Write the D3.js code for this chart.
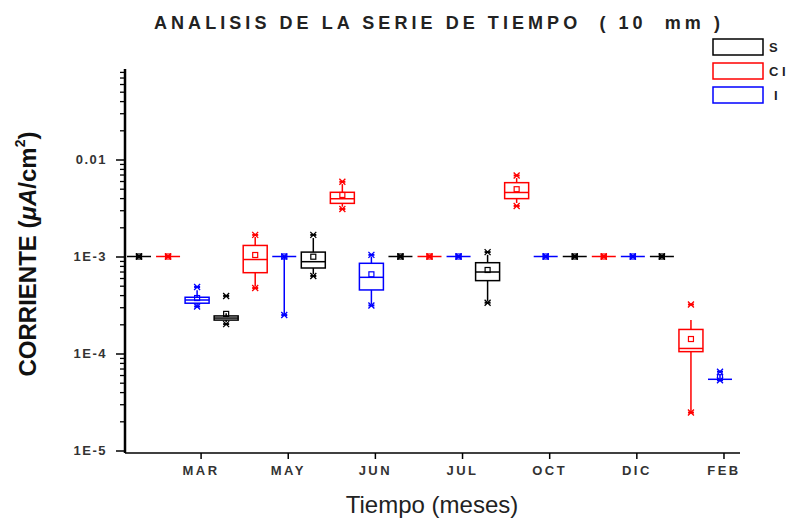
<!DOCTYPE html>
<html>
<head>
<meta charset="utf-8">
<script src="https://cdn.jsdelivr.net/npm/d3@7"></script>
<style>
body { margin: 0; background: #fff; }
text { font-family: "Liberation Sans", Arial, sans-serif; }
</style>
</head>
<body>
<svg id="chart" width="790" height="519"></svg>
<script>
// boxes per month, 3 series side by side

var months = ["MAR", "MAY", "JUN", "JUL", "OCT", "DIC", "FEB"];
var seriesNames = ["S", "C I", "I"];
var seriesColors = ["#000000", "#ff0000", "#0000ff"];

// [whisker low, q1, median, q3, whisker high]
var boxS = [
	[1e-3, 1e-3, 1e-3, 1e-3, 1e-3],
	[2.1e-4, 2.21e-4, 2.32e-4, 2.44e-4, 2.6e-4],
	[6.6e-4, 7.61e-4, 8.84e-4, 1.11e-3, 1.55e-3],
	[1e-3, 1e-3, 1e-3, 1e-3, 1e-3],
	[3.48e-4, 5.64e-4, 6.92e-4, 8.63e-4, 1.04e-3],
	[1e-3, 1e-3, 1e-3, 1e-3, 1e-3],
	[1e-3, 1e-3, 1e-3, 1e-3, 1e-3]
];
var boxCI = [
	[1e-3, 1e-3, 1e-3, 1e-3, 1e-3],
	[4.91e-4, 6.81e-4, 9.31e-4, 1.3e-3, 1.59e-3],
	[3.26e-3, 3.53e-3, 3.94e-3, 4.59e-3, 5.58e-3],
	[1e-3, 1e-3, 1e-3, 1e-3, 1e-3],
	[3.56e-3, 3.95e-3, 4.57e-3, 5.77e-3, 6.44e-3],
	[1e-3, 1e-3, 1e-3, 1e-3, 1e-3],
	[2.51e-5, 1.045e-4, 1.127e-4, 1.77e-4, 2.21e-4]
];
var boxI = [
	[3.16e-4, 3.3e-4, 3.56e-4, 3.8e-4, 4.5e-4],
	[2.49e-4, 1e-3, 1e-3, 1e-3, 1e-3],
	[3.24e-4, 4.52e-4, 6.1e-4, 8.51e-4, 1e-3],
	[1e-3, 1e-3, 1e-3, 1e-3, 1e-3],
	[1e-3, 1e-3, 1e-3, 1e-3, 1e-3],
	[1e-3, 1e-3, 1e-3, 1e-3, 1e-3],
	[5.2e-5, 5.42e-5, 5.42e-5, 5.42e-5, 6.0e-5]
];
var meanS = [1e-3, 2.56e-4, 9.95e-4, 1e-3, 7.26e-4, 1e-3, 1e-3];
var meanCI = [1e-3, 1.036e-3, 4.31e-3, 1e-3, 4.94e-3, 1e-3, 1.41e-4];
var meanI = [3.73e-4, 1e-3, 6.55e-4, 1e-3, 1e-3, 1e-3, 5.7e-5];
// [1%, 99%] markers (x)
var extS = [[1e-3, 1e-3], [2.01e-4, 3.92e-4], [6.3e-4, 1.67e-3], [1e-3, 1e-3], [3.34e-4, 1.11e-3], [1e-3, 1e-3], [1e-3, 1e-3]];
var extCI = [[1e-3, 1e-3], [4.73e-4, 1.67e-3], [3.09e-3, 5.89e-3], [1e-3, 1e-3], [3.32e-3, 6.84e-3], [1e-3, 1e-3], [2.46e-5, 3.2e-4]];
var extI = [[3.05e-4, 4.85e-4], [2.49e-4, 1e-3], [3.13e-4, 1.04e-3], [1e-3, 1e-3], [1e-3, 1e-3], [1e-3, 1e-3], [5.3e-5, 6.49e-5]];

var yMajor = [1e-5, 1e-4, 1e-3, 0.01];
var yMajorLabels = ["1E-5", "1E-4", "1E-3", "0.01"];

var boxes = [boxS, boxCI, boxI];
var means = [meanS, meanCI, meanI];
var exts = [extS, extCI, extI];

var svg = d3.select("#chart");
var plotLeft = 125, plotRight = 740, plotTop = 69, plotBottom = 453;
var boxW = 24;

var x = d3.scaleLinear().domain([1, 21]).range([139, 720]);
var y = d3.scaleLog().domain([1e-5, 0.1]).range([450.5, 62.5]);

function slot(g, s) { return g * 3 + s + 1; }

// title
svg.append("text")
	.text("ANALISIS DE LA SERIE DE TIEMPO  ( 10  mm )")
	.attr("x", 437)
	.attr("y", 29)
	.attr("text-anchor", "middle")
	.attr("font-size", 18)
	.attr("font-weight", "bold")
	.attr("fill", "#222")
	.style("white-space", "pre")
	.attr("textLength", 566)
	.attr("lengthAdjust", "spacing");

// y axis: minor ticks
var minor = [];
yMajor.forEach(function (d) {
	for (var k = 2; k <= 9; k++) {
		if (d * k <= 0.085) minor.push(d * k);
	}
});
svg.append("g")
	.attr("transform", "translate(" + plotLeft + ",0)")
	.call(d3.axisLeft(y).tickValues(minor).tickSize(5).tickFormat(""))
	.call(function (g) { g.select(".domain").remove(); })
	.selectAll("line").attr("stroke", "#000").attr("stroke-width", 1.3);

var yAxis = svg.append("g")
	.attr("transform", "translate(" + plotLeft + ",0)")
	.call(d3.axisLeft(y).tickValues(yMajor).tickSize(9).tickPadding(9)
		.tickFormat(function (d, i) { return yMajorLabels[i]; }));
yAxis.select(".domain").remove();
yAxis.selectAll("line").attr("stroke", "#000").attr("stroke-width", 1.5);
yAxis.selectAll("text")
	.attr("font-size", 13)
	.attr("font-weight", "bold")
	.attr("fill", "#333")
	.attr("letter-spacing", 1.5)
	.style("font-family", "'Liberation Sans', Arial, sans-serif");

svg.append("line")
	.attr("x1", plotLeft).attr("x2", plotLeft)
	.attr("y1", plotTop).attr("y2", plotBottom)
	.style("stroke", "black")
	.style("stroke-width", 2.5);

// x axis
var xAxis = svg.append("g")
	.attr("transform", "translate(0," + plotBottom + ")")
	.call(d3.axisBottom(x)
		.tickValues(months.map(function (m, g) { return slot(g, 2) + 0.12; }))
		.tickSize(6).tickPadding(7)
		.tickFormat(function (d, i) { return months[i]; }));
xAxis.select(".domain").remove();
xAxis.selectAll("line").attr("stroke", "#000").attr("stroke-width", 1.5);
xAxis.selectAll("text")
	.attr("font-size", 13)
	.attr("font-weight", "bold")
	.attr("fill", "#333")
	.attr("letter-spacing", 2.5)
	.style("font-family", "'Liberation Sans', Arial, sans-serif");

svg.append("line")
	.attr("x1", plotLeft).attr("x2", plotRight)
	.attr("y1", plotBottom).attr("y2", plotBottom)
	.style("stroke", "black")
	.style("stroke-width", 1.5);

// axis titles
svg.append("text")
	.text("Tiempo (meses)")
	.attr("x", 432)
	.attr("y", 513)
	.attr("text-anchor", "middle")
	.attr("font-size", 24)
	.attr("fill", "#222");

var yTitle = svg.append("text")
	.attr("transform", "translate(36,254) rotate(-90)")
	.attr("text-anchor", "middle")
	.attr("font-size", 24)
	.attr("font-weight", "bold")
	.attr("fill", "#111");
yTitle.append("tspan").text("CORRIENTE (");
yTitle.append("tspan").text("μA").attr("font-style", "italic");
yTitle.append("tspan").text("/cm");
yTitle.append("tspan").text("2").attr("font-size", 14).attr("dy", -11);
yTitle.append("tspan").text(")").attr("dy", 11);

// boxes
boxes.forEach(function (series, s) {
	var col = seriesColors[s];
	series.forEach(function (b, g) {
		var cx = x(slot(g, s));
		var grp = svg.append("g").attr("stroke", col).attr("fill", "none").attr("stroke-width", 1.5);
		// whiskers
		grp.append("line").attr("x1", cx).attr("x2", cx).attr("y1", y(b[0])).attr("y2", y(b[1]));
		grp.append("line").attr("x1", cx).attr("x2", cx).attr("y1", y(b[3])).attr("y2", y(b[4]));
		// box
		grp.append("rect")
			.attr("x", cx - boxW / 2)
			.attr("y", y(b[3]))
			.attr("width", boxW)
			.attr("height", Math.max(0, y(b[1]) - y(b[3])));
		grp.append("line")
			.attr("x1", cx - boxW / 2).attr("x2", cx + boxW / 2)
			.attr("y1", y(b[2])).attr("y2", y(b[2]));
		// mean
		grp.append("rect")
			.attr("x", cx - 2.5).attr("y", y(means[s][g]) - 2.5)
			.attr("width", 5).attr("height", 5)
			.attr("stroke-width", 1.2);
		// 1% / 99% markers and min/max dashes
		exts[s][g].forEach(function (v) {
			var py = y(v);
			grp.append("path")
				.attr("d", "M" + (cx - 3) + "," + (py - 3) + "L" + (cx + 3) + "," + (py + 3) +
					"M" + (cx - 3) + "," + (py + 3) + "L" + (cx + 3) + "," + (py - 3))
				.attr("stroke-width", 1.3);
			grp.append("line")
				.attr("x1", cx - 3).attr("x2", cx + 3)
				.attr("y1", py).attr("y2", py)
				.attr("stroke-width", 2);
		});
	});
});

// legend
seriesNames.forEach(function (name, i) {
	svg.append("rect")
		.attr("x", 713)
		.attr("y", 39 + i * 24)
		.attr("width", 50)
		.attr("height", 16)
		.attr("fill", "none")
		.attr("stroke", seriesColors[i])
		.attr("stroke-width", 1.5);
	svg.append("text")
		.text(name)
		.attr("x", i == 2 ? 774 : 769)
		.attr("y", 52 + i * 24)
		.attr("font-size", 13)
		.attr("font-weight", "bold")
		.attr("fill", "#222")
		.style("white-space", "pre");
});
</script>
</body>
</html>
